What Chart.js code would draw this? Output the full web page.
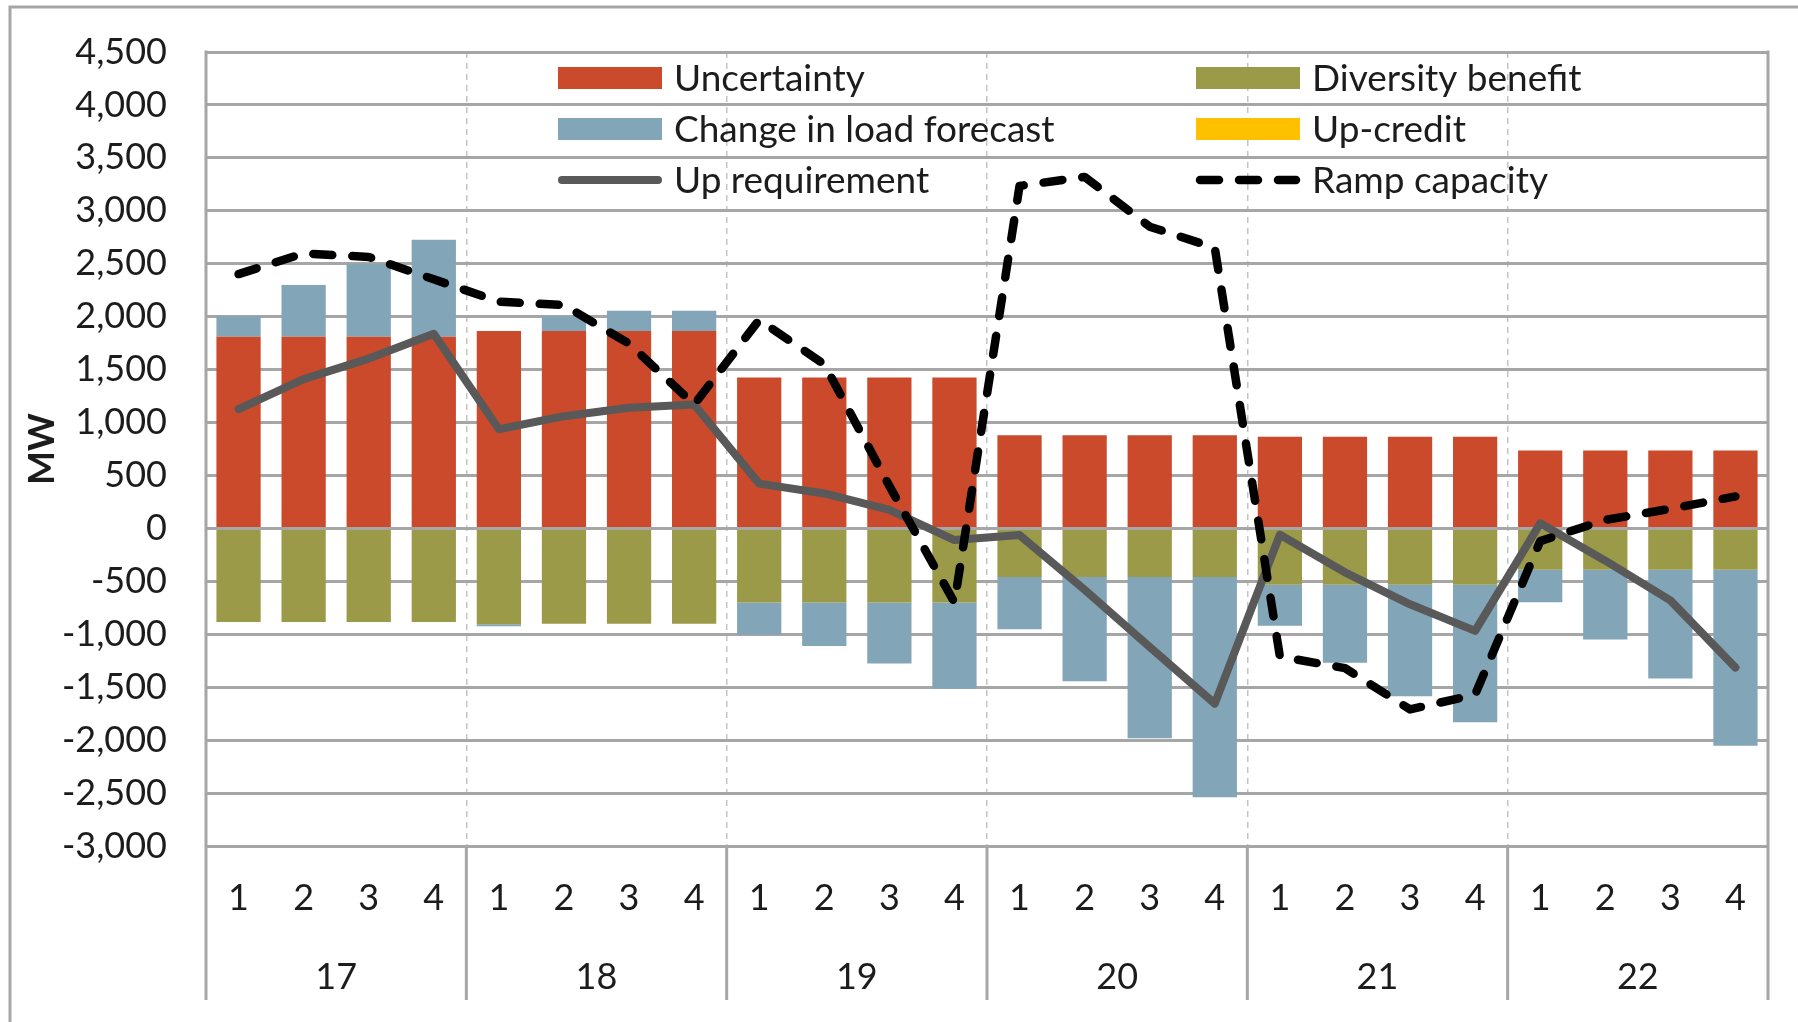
<!DOCTYPE html>
<html>
<head>
<meta charset="utf-8">
<script src="https://cdn.jsdelivr.net/npm/chart.js@4.4.1/dist/chart.umd.min.js"></script>
<style>
  html, body { margin: 0; padding: 0; background: #fff; }
  #wrap { width: 1798px; height: 1022px; position: relative; }
</style>
</head>
<body>
<div id="wrap"><canvas id="rampChart" width="1798" height="1022"></canvas></div>
<script>
// Quarters 1-4 for each year 17-22, values in MW
const years = ['17', '18', '19', '20', '21', '22'];
const quarters = ['1', '2', '3', '4'];

const uncertainty = [1810, 1810, 1810, 1810, 1865, 1865, 1865, 1865, 1425, 1425, 1425, 1425,
                     880, 880, 880, 880, 866, 866, 866, 866, 737, 737, 737, 737];
const diversityBenefit = [-885, -885, -885, -885, -905, -900, -900, -900, -700, -700, -700, -700,
                          -458, -458, -458, -458, -533, -533, -533, -533, -390, -390, -390, -390];
const loadForecastChange = [195, 490, 690, 917, -20, 140, 190, 190, -305, -410, -575, -815,
                            -495, -985, -1525, -2082, -387, -737, -1052, -1297, -307, -660, -1028, -1662];
const upCredit = [0, 0, 0, 0, 0, 0, 0, 0, 0, 0, 0, 0, 0, 0, 0, 0, 0, 0, 0, 0, 0, 0, 0, 0];
const upRequirement = [1126, 1410, 1604, 1839, 937, 1060, 1140, 1170, 423, 330, 175, -110,
                       -63, -580, -1120, -1655, -60, -415, -717, -968, 48, -305, -680, -1315];
const rampCapacity = [2402, 2597, 2564, 2353, 2141, 2109, 1745, 1170, 1970, 1550, 400, -700,
                      3235, 3320, 2850, 2650, -1210, -1320, -1710, -1570, -120, 80, 185, 302];

const yTicks = { min: -3000, max: 4500, step: 500 };

const FONT = 'Lato, "Open Sans", sans-serif';
const TEXT = '#1c1c1c';
const GRID = '#a6a6a6';

const labels = [];
years.forEach(() => quarters.forEach(q => labels.push(q)));

// Excel style frame: outer border, axis box lines, year row, MW title, legend
const excelFrame = {
    id: 'excelFrame',
    afterDraw(chart) {
        const ctx = chart.ctx;
        const xs = chart.scales.x;
        const area = chart.chartArea;
        const step = (xs.right - xs.left) / labels.length;
        const axisBottom = 1000;

        ctx.save();
        ctx.strokeStyle = GRID;
        ctx.lineWidth = 3;
        ctx.strokeRect(10, 7, 1820, 1040);

        // left / right box lines and year separators below the plot
        ctx.beginPath();
        ctx.moveTo(area.left, area.top - 1.5);
        ctx.lineTo(area.left, axisBottom);
        ctx.moveTo(area.right, area.top - 1.5);
        ctx.lineTo(area.right, axisBottom);
        for (let k = 1; k < years.length; k++) {
            const x = xs.left + k * quarters.length * step;
            ctx.moveTo(x, area.bottom);
            ctx.lineTo(x, axisBottom);
        }
        ctx.stroke();

        // year labels
        ctx.fillStyle = TEXT;
        ctx.font = '36px ' + FONT;
        ctx.textAlign = 'center';
        ctx.textBaseline = 'middle';
        years.forEach((y, k) => {
            const x = xs.left + (k + 0.5) * quarters.length * step;
            ctx.fillText(y, x, 977);
        });

        // axis title
        ctx.translate(42, (area.top + area.bottom) / 2);
        ctx.rotate(-Math.PI / 2);
        ctx.font = 'bold 36px ' + FONT;
        ctx.fillText('MW', 0, 0);
        ctx.restore();
    },
    afterDatasetsDraw(chart) {
        const ctx = chart.ctx;
        const ds = chart.data.datasets;
        const cols = [558, 1196];
        const rows = [78, 129, 180];
        ctx.save();
        ctx.font = '37px ' + FONT;
        ctx.textBaseline = 'middle';
        ctx.textAlign = 'left';
        ds.forEach((d, i) => {
            const cx = cols[i % 2];
            const cy = rows[Math.floor(i / 2)];
            if (d.type === 'line') {
                ctx.strokeStyle = d.borderColor;
                ctx.lineWidth = d.borderWidth;
                ctx.lineCap = 'round';
                ctx.setLineDash(d.borderDash || []);
                ctx.beginPath();
                ctx.moveTo(cx + 4, cy);
                ctx.lineTo(cx + 100, cy);
                ctx.stroke();
                ctx.setLineDash([]);
            } else {
                ctx.fillStyle = d.backgroundColor;
                ctx.fillRect(cx, cy - 11, 104, 22);
            }
            ctx.fillStyle = TEXT;
            ctx.fillText(d.label, cx + 116, cy + 1);
        });
        ctx.restore();
    }
};

const barCommon = { type: 'bar', order: 2, barPercentage: 0.68, categoryPercentage: 1, borderWidth: 0 };

new Chart(document.getElementById('rampChart'), {
    data: {
        labels: labels,
        datasets: [
            { ...barCommon, label: 'Uncertainty', data: uncertainty, backgroundColor: '#cb4a2b' },
            { ...barCommon, label: 'Diversity benefit', data: diversityBenefit, backgroundColor: '#9a9a48' },
            { ...barCommon, label: 'Change in load forecast', data: loadForecastChange, backgroundColor: '#82a5b8' },
            { ...barCommon, label: 'Up-credit', data: upCredit, backgroundColor: '#ffc000' },
            {
                type: 'line', order: 1, stack: 'req', label: 'Up requirement', data: upRequirement,
                borderColor: '#595959', borderWidth: 8, pointRadius: 0, tension: 0,
                borderJoinStyle: 'round', borderCapStyle: 'round', fill: false
            },
            {
                type: 'line', order: 0, stack: 'ramp', label: 'Ramp capacity', data: rampCapacity,
                borderColor: '#000000', borderWidth: 8.5, borderDash: [19, 20], pointRadius: 0, tension: 0,
                borderJoinStyle: 'round', borderCapStyle: 'round', fill: false
            }
        ]
    },
    options: {
        responsive: false,
        animation: false,
        devicePixelRatio: 1,
        layout: { padding: { top: 52, right: 30, left: 0, bottom: 0 } },
        plugins: { legend: { display: false }, tooltip: { enabled: false } },
        scales: {
            x: {
                stacked: true,
                offset: true,
                grid: {
                    offset: true,
                    drawTicks: false,
                    lineWidth: 1.5,
                    color: (c) => (c.index > 0 && c.index < labels.length && c.index % quarters.length === 0) ? '#c4c4c4' : 'rgba(0,0,0,0)'
                },
                border: { display: false, dash: [6, 5] },
                ticks: {
                    color: TEXT, font: { family: FONT, size: 36 }, padding: 31,
                    maxRotation: 0, autoSkip: false
                },
                afterFit: (s) => { s.height = 176; s.paddingLeft = 0; s.paddingRight = 0; }
            },
            y: {
                stacked: true,
                min: yTicks.min,
                max: yTicks.max,
                grid: { color: GRID, lineWidth: 3, drawTicks: false },
                border: { display: false },
                ticks: {
                    stepSize: yTicks.step,
                    color: TEXT, font: { family: FONT, size: 36 }, padding: 39,
                    callback: (v) => v.toLocaleString('en-US')
                },
                afterFit: (s) => { s.width = 206; s.paddingTop = 0; s.paddingBottom = 0; }
            }
        }
    },
    plugins: [excelFrame]
});
</script>
</body>
</html>
